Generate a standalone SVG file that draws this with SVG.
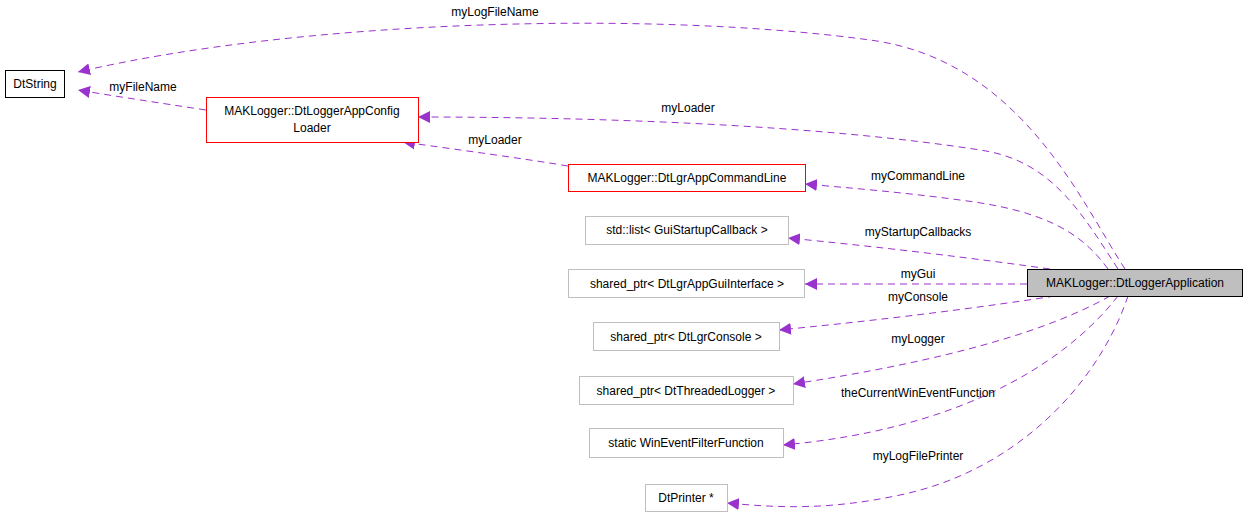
<svg xmlns="http://www.w3.org/2000/svg" width="1248" height="517" viewBox="0 0 1248 517">
<defs>
<style>
text{font-family:"Liberation Sans",Arial,sans-serif;font-size:12px;fill:#000}
.n{fill:#fff;stroke:#bfbfbf;stroke-width:1}
.r{fill:#fff;stroke:#ff0000;stroke-width:1}
.b{fill:#fff;stroke:#000;stroke-width:1}
.m{fill:#bfbfbf;stroke:#000;stroke-width:1}
.e{fill:none;stroke:#9a32cd;stroke-dasharray:7,5;stroke-width:1}
</style>
<marker id="a" viewBox="0 0 10 10" refX="10" refY="5" markerWidth="12" markerHeight="12" markerUnits="userSpaceOnUse" orient="auto"><path d="M0,0L10,5L0,10z" fill="#9a32cd"/></marker>
</defs>
<rect width="1248" height="517" fill="#fff"/>
<g id="edges">
<path class="e" marker-end="url(#a)" d="M1125,269C1080,200 1020,60 870,40C650,10 300,20 78,72"/>
<text x="495" y="16" text-anchor="middle">myLogFileName</text>
<path class="e" marker-end="url(#a)" d="M206,110C160,103 120,97 78,90"/>
<text x="143" y="91" text-anchor="middle">myFileName</text>
<path class="e" marker-end="url(#a)" d="M1118,269C1080,210 1050,160 980,150C820,125 600,117 418,117"/>
<text x="688" y="112" text-anchor="middle">myLoader</text>
<path class="e" marker-end="url(#a)" d="M568,166C520,158 460,150 403,142"/>
<text x="495" y="144" text-anchor="middle">myLoader</text>
<path class="e" marker-end="url(#a)" d="M1108,269C1080,230 1040,210 960,200C900,192 850,188 805,184"/>
<text x="918" y="180" text-anchor="middle">myCommandLine</text>
<path class="e" marker-end="url(#a)" d="M1050,269C950,255 860,245 788,238"/>
<text x="918" y="236" text-anchor="middle">myStartupCallbacks</text>
<path class="e" marker-end="url(#a)" d="M1027,284L805,284"/>
<text x="918" y="278" text-anchor="middle">myGui</text>
<path class="e" marker-end="url(#a)" d="M1055,296C950,312 860,322 779,330"/>
<text x="918" y="301" text-anchor="middle">myConsole</text>
<path class="e" marker-end="url(#a)" d="M1110,296C1050,330 950,360 793,384"/>
<text x="918" y="343" text-anchor="middle">myLogger</text>
<path class="e" marker-end="url(#a)" d="M1118,296C1060,370 950,430 783,445"/>
<text x="918" y="397" text-anchor="middle">theCurrentWinEventFunction</text>
<path class="e" marker-end="url(#a)" d="M1128,296C1100,380 1020,470 900,495C830,510 780,508 727,503"/>
<text x="918" y="460" text-anchor="middle">myLogFilePrinter</text>
</g>
<g id="DtString"><rect class="b" x="5.5" y="70.5" width="59" height="27"/><text x="35" y="88" text-anchor="middle">DtString</text></g>
<g id="ConfigLoader"><rect class="r" x="206.5" y="97.5" width="212" height="45"/><text x="312" y="115" text-anchor="middle">MAKLogger::DtLoggerAppConfig</text><text x="312" y="132" text-anchor="middle">Loader</text></g>
<g id="CommandLine"><rect class="r" x="568.5" y="164.5" width="237" height="27"/><text x="687" y="182" text-anchor="middle">MAKLogger::DtLgrAppCommandLine</text></g>
<g id="StdList"><rect class="n" x="585.5" y="216.5" width="203" height="28"/><text x="687" y="234" text-anchor="middle">std::list&lt; GuiStartupCallback &gt;</text></g>
<g id="GuiPtr"><rect class="n" x="568.5" y="269.5" width="236" height="28"/><text x="687" y="288" text-anchor="middle">shared_ptr&lt; DtLgrAppGuiInterface &gt;</text></g>
<g id="ConsolePtr"><rect class="n" x="593.5" y="322.5" width="186" height="28"/><text x="686" y="341" text-anchor="middle">shared_ptr&lt; DtLgrConsole &gt;</text></g>
<g id="LoggerPtr"><rect class="n" x="579.5" y="376.5" width="214" height="28"/><text x="686" y="395" text-anchor="middle">shared_ptr&lt; DtThreadedLogger &gt;</text></g>
<g id="WinEvent"><rect class="n" x="589.5" y="428.5" width="194" height="29"/><text x="686" y="447" text-anchor="middle">static WinEventFilterFunction</text></g>
<g id="DtPrinter"><rect class="n" x="645.5" y="484.5" width="82" height="27"/><text x="686" y="502" text-anchor="middle">DtPrinter *</text></g>
<g id="App"><rect class="m" x="1027.5" y="269.5" width="215" height="27"/><text x="1135" y="287" text-anchor="middle">MAKLogger::DtLoggerApplication</text></g>
</svg>
